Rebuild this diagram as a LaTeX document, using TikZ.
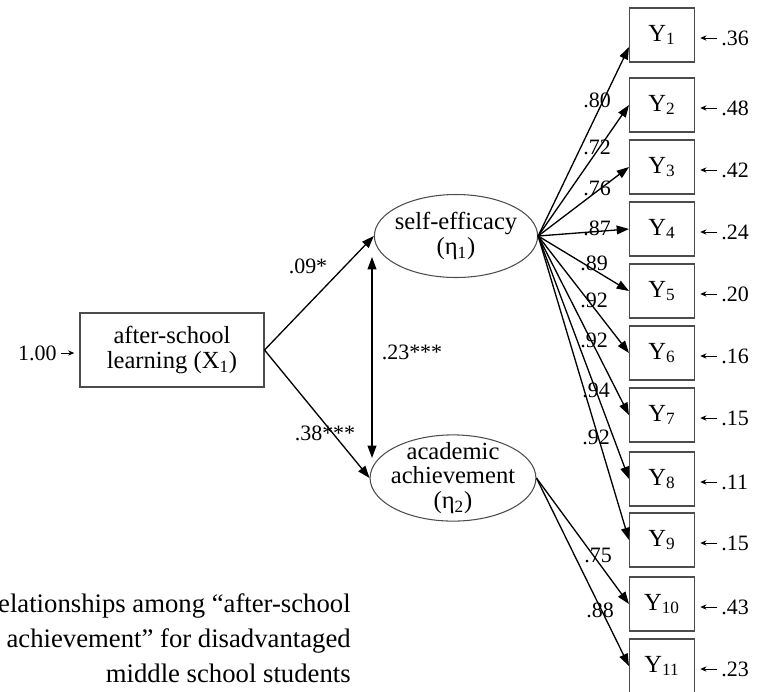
\documentclass[tikz,border=0pt]{standalone}
\usepackage{fontspec}
\setmainfont{Liberation Serif}
\usetikzlibrary{shapes.geometric,arrows.meta}

\begin{document}
\begin{tikzpicture}[x=0.02cm,y=-0.02cm]

% definitions
\tikzstyle{exo} = [rectangle, minimum width=3.68cm, minimum height=1.48cm, align=center, draw=black!70, line width=0.6pt, font=\fontsize{14}{14.7}\selectfont]

\tikzstyle{latent} = [ellipse, minimum width=3.24cm, minimum height=1.66cm, inner xsep=-2pt, inner ysep=-3pt, align=center, draw=black!70, line width=0.6pt, font=\fontsize{14}{14}\selectfont]

\tikzstyle{indicator} = [rectangle, minimum width=1.3cm, minimum height=1.08cm, draw=black!70, line width=0.6pt, font=\fontsize{14}{14}\selectfont]

\tikzstyle{coef} = [inner sep=1pt, font=\fontsize{12.5}{12.5}\selectfont]

\tikzstyle{resid} = [anchor=west, inner sep=0pt, font=\fontsize{12.5}{12.5}\selectfont]

\tikzstyle{captext} = [anchor=base east, inner sep=0pt, font=\fontsize{15.2}{19.8}\selectfont]

\tikzstyle{arrow} = [-{Triangle[length=7pt,width=5pt]}, line width=0.75pt]
\tikzstyle{dblarrow} = [{Triangle[length=7pt,width=5pt]}-{Triangle[length=7pt,width=5pt]}, line width=0.75pt]
\tikzstyle{errarrow} = [-{Stealth[length=3.5pt,width=3pt]}, line width=0.5pt, shorten <=2pt, shorten >=3pt]

\useasboundingbox (0,0) rectangle (760,691);

% the graph
\node (x1) [exo] at (172,350) {after-school\\learning (X\textsubscript{1})};

\node (eta1) [latent] at (456,236) {self-efficacy\\(η\textsubscript{1})};

\node (eta2) [latent, minimum width=3.3cm, minimum height=1.62cm] at (453,478) {academic\\achievement\\(η\textsubscript{2})};

\node (y1) [indicator] at (662,35) {Y\textsubscript{1}};
\node (y2) [indicator] at (662,105) {Y\textsubscript{2}};
\node (y3) [indicator] at (662,167) {Y\textsubscript{3}};
\node (y4) [indicator] at (662,229) {Y\textsubscript{4}};
\node (y5) [indicator] at (662,291) {Y\textsubscript{5}};
\node (y6) [indicator] at (662,353) {Y\textsubscript{6}};
\node (y7) [indicator] at (662,415) {Y\textsubscript{7}};
\node (y8) [indicator] at (662,479) {Y\textsubscript{8}};
\node (y9) [indicator] at (662,540) {Y\textsubscript{9}};
\node (y10) [indicator] at (662,604) {Y\textsubscript{10}};
\node (y11) [indicator] at (662,666) {Y\textsubscript{11}};

% residuals
\node (r0) [coef, anchor=east, inner sep=0pt] at (57,353) {1.00};
\node (e1) [resid] at (721,38) {.36};
\node (e2) [resid] at (721,108) {.48};
\node (e3) [resid] at (721,170) {.42};
\node (e4) [resid] at (721,232) {.24};
\node (e5) [resid] at (721,294) {.20};
\node (e6) [resid] at (721,356) {.16};
\node (e7) [resid] at (721,418) {.15};
\node (e8) [resid] at (721,482) {.11};
\node (e9) [resid] at (721,543) {.15};
\node (e10) [resid] at (721,607) {.43};
\node (e11) [resid] at (721,669) {.23};

% path coefficients
\node (p1) [coef] at (308,266) {.09*};
\node (p2) [coef] at (325,433) {.38***};
\node (p3) [coef] at (412,352) {.23***};

\node (l1) [coef] at (597,100) {.80};
\node (l2) [coef] at (597,147) {.72};
\node (l3) [coef] at (597,188) {.76};
\node (l4) [coef] at (597,228) {.87};
\node (l5) [coef] at (594,263) {.89};
\node (l6) [coef] at (594,300) {.92};
\node (l7) [coef] at (594,340) {.92};
\node (l8) [coef] at (596,390) {.94};
\node (l9) [coef] at (596,437) {.92};
\node (l10) [coef] at (598,555) {.75};
\node (l11) [coef] at (600,610) {.88};

\coordinate (c1) at (372,257);
\coordinate (c2) at (372,458);

\draw [arrow] (x1.east) -- (eta1.west);
\draw [arrow] (x1.east) -- (eta2.west);
\draw [dblarrow] (c1) -- (c2);

\draw [arrow] (eta1.east) -- ([yshift=-0.24cm]y1.west);
\draw [arrow] (eta1.east) -- (y2.west);
\draw [arrow] (eta1.east) -- (y3.west);
\draw [arrow] (eta1.east) -- (y4.west);
\draw [arrow] (eta1.east) -- (y5.west);
\draw [arrow] (eta1.east) -- (y6.west);
\draw [arrow] (eta1.east) -- (y7.west);
\draw [arrow] (eta1.east) -- (y8.west);
\draw [arrow] (eta1.east) -- (y9.west);
\draw [arrow] (eta2.east) -- (y10.west);
\draw [arrow] (eta2.east) -- (y11.west);

\draw [errarrow] (r0.east) -- (r0.east -| x1.west);
\draw [errarrow] (e1.west) -- (e1.west -| y1.east);
\draw [errarrow] (e2.west) -- (e2.west -| y2.east);
\draw [errarrow] (e3.west) -- (e3.west -| y3.east);
\draw [errarrow] (e4.west) -- (e4.west -| y4.east);
\draw [errarrow] (e5.west) -- (e5.west -| y5.east);
\draw [errarrow] (e6.west) -- (e6.west -| y6.east);
\draw [errarrow] (e7.west) -- (e7.west -| y7.east);
\draw [errarrow] (e8.west) -- (e8.west -| y8.east);
\draw [errarrow] (e9.west) -- (e9.west -| y9.east);
\draw [errarrow] (e10.west) -- (e10.west -| y10.east);
\draw [errarrow] (e11.west) -- (e11.west -| y11.east);

% caption
\node (cap1) [captext] at (351,612) {relationships among “after-school};
\node (cap2) [captext] at (351,647) {academic achievement” for disadvantaged};
\node (cap3) [captext] at (351,682) {middle school students};

\end{tikzpicture}
\end{document}
